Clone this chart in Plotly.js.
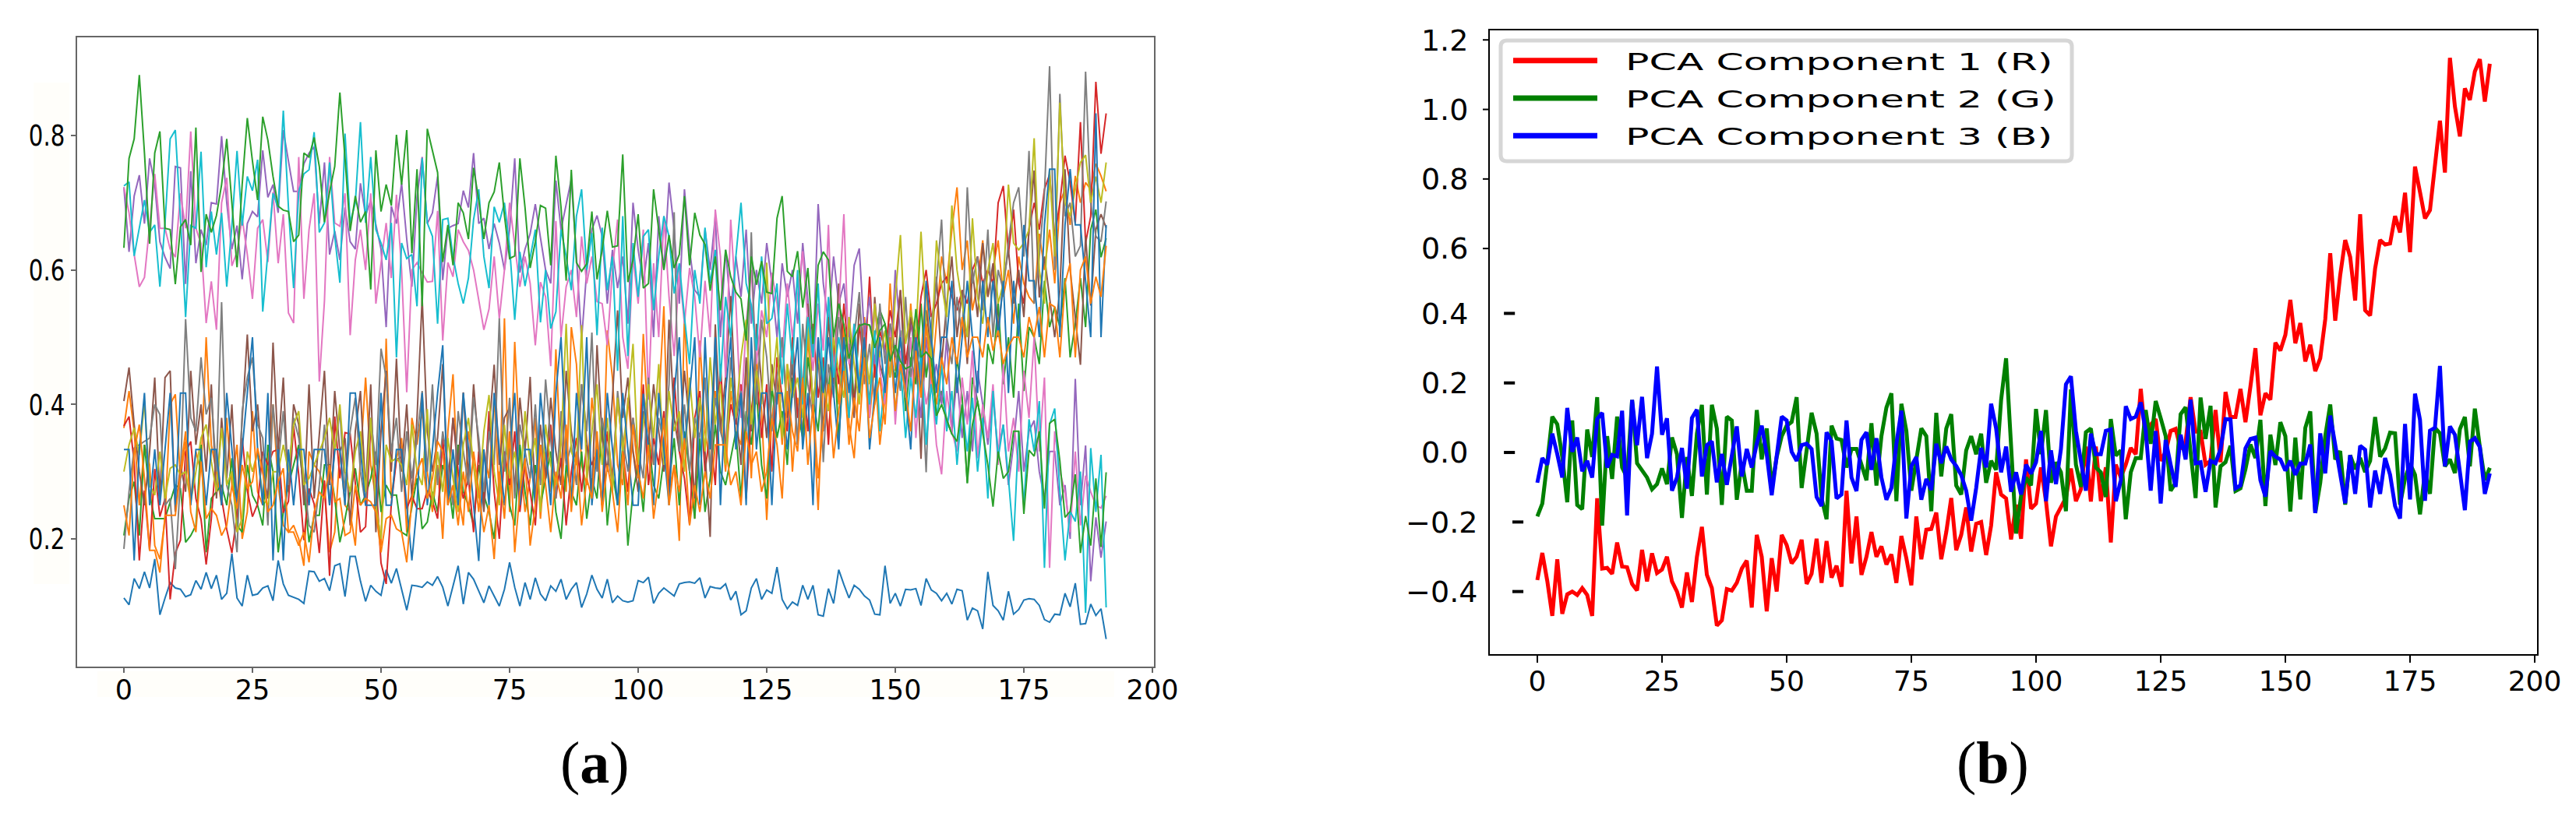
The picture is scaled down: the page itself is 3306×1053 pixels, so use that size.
<!DOCTYPE html>
<html><head><meta charset="utf-8">
<script src="https://cdn.plot.ly/plotly-3.0.1.min.js"></script>
<style>html,body{margin:0;padding:0;background:#fff}</style></head>
<body><div id="chart" style="width:3306px;height:1053px"></div>
<script>
// ---------- panel (a): line series, index 0..191 ----------
const aBlueLow=[.112,.102,.141,.126,.151,.127,.17,.087,.112,.135,
.127,.125,.114,.117,.138,.125,.15,.126,.146,.11,
.119,.178,.112,.10,.146,.116,.118,.127,.13,.108,
.168,.133,.116,.113,.11,.104,.152,.151,.137,.141,
.123,.16,.163,.114,.174,.174,.137,.107,.131,.122,
.116,.154,.134,.156,.125,.094,.131,.13,.128,.136,
.131,.144,.128,.10,.13,.16,.103,.15,.14,.122,
.105,.13,.115,.1,.125,.165,.128,.1,.135,.11,
.142,.118,.108,.13,.122,.14,.11,.125,.135,.098,
.118,.146,.125,.112,.14,.105,.115,.108,.106,.108,
.138,.135,.143,.104,.119,.127,.121,.115,.133,.135,
.136,.134,.142,.112,.129,.127,.126,.133,.109,.122,
.087,.093,.127,.141,.11,.124,.119,.158,.11,.096,
.106,.101,.131,.11,.131,.087,.085,.126,.104,.154,
.132,.112,.131,.125,.115,.109,.088,.087,.16,.104,
.119,.10,.125,.124,.126,.101,.141,.124,.119,.108,
.119,.103,.125,.123,.079,.097,.093,.066,.151,.101,
.093,.079,.122,.088,.095,.109,.111,.11,.101,.08,
.076,.088,.087,.119,.099,.134,.073,.074,.103,.086,
.096,.051];
const aOrangeA=[.365,.42,.36,.25,.34,.31,.19,.17,.23,.40,
.415,.29,.345,.26,.33,.30,.50,.34,.30,.25,
.38,.28,.34,.20,.24,.39,.27,.25,.31,.40,
.28,.22,.21,.22,.20,.16,.33,.31,.30,.27,
.18,.21,.33,.25,.24,.19,.32,.44,.31,.26,
.19,.498,.26,.32,.35,.21,.38,.34,.39,.30,
.24,.31,.20,.36,.445,.27,.22,.36,.31,.24,
.33,.29,.41,.26,.528,.24,.493,.33,.24,.29,
.38,.23,.33,.27,.482,.31,.27,.515,.46,.31,
.28,.41,.34,.25,.51,.44,.31,.28,.41,.33,
.29,.505,.36,.31,.40,.546,.27,.31,.197,.534,
.37,.23,.495,.36,.31,.42,.38,.30,.42,.36,
.34,.45,.29,.47,.39,.228,.38,.44,.34,.46,
.30,.41,.36,.50,.39,.243,.44,.35,.48,.40,
.52,.37,.32,.44,.53,.38,.46,.34,.41,.58,
.45,.50,.40,.55,.44,.47,.58,.43,.52,.62,
.58,.66,.723,.60,.644,.54,.58,.644,.56,.60,
.644,.56,.60,.52,.62,.58,.56,.55,.654,.60,
.66,.58,.70,.72,.667,.74,.70,.73,.72,.758,
.74,.717];
const aOrangeB=[.25,.205,.33,.37,.29,.183,.183,.15,.235,.235,
.235,.30,.36,.24,.21,.315,.23,.245,.235,.205,
.22,.28,.245,.31,.275,.285,.335,.30,.24,.25,
.285,.305,.21,.21,.19,.21,.165,.24,.27,.26,
.31,.255,.26,.205,.21,.28,.25,.26,.255,.24,
.18,.23,.235,.215,.21,.165,.26,.30,.32,.26,
.29,.345,.33,.25,.28,.22,.30,.24,.33,.27,
.21,.25,.17,.30,.23,.36,.18,.27,.32,.19,
.25,.34,.28,.21,.30,.26,.37,.24,.33,.22,
.29,.26,.36,.24,.31,.27,.21,.33,.25,.37,
.30,.26,.34,.23,.29,.38,.25,.31,.27,.35,
.22,.28,.24,.30,.26,.34,.34,.34,.28,.30,
.25,.36,.31,.33,.27,.30,.38,.34,.26,.42,
.36,.33,.44,.31,.40,.29,.37,.43,.32,.39,
.45,.34,.41,.36,.47,.35,.40,.44,.37,.50,
.39,.46,.42,.36,.48,.41,.52,.44,.40,.47,
.43,.50,.46,.53,.47,.50,.50,.47,.53,.48,
.51,.46,.486,.50,.50,.47,.53,.50,.545,.47,
.55,.545,.47,.58,.61,.47,.60,.62,.55,.59,
.56,.636];
const aGreenMid=[.205,.26,.285,.205,.34,.265,.23,.23,.23,.255,
.28,.275,.195,.205,.22,.34,.18,.26,.27,.28,
.25,.32,.22,.21,.31,.265,.25,.22,.34,.30,
.18,.24,.28,.31,.34,.275,.195,.235,.235,.31,
.31,.26,.195,.23,.27,.305,.25,.265,.29,.33,
.24,.28,.265,.265,.21,.205,.25,.29,.215,.225,
.27,.24,.31,.29,.23,.34,.27,.25,.22,.31,
.265,.24,.20,.29,.33,.25,.22,.34,.27,.22,
.31,.25,.29,.33,.24,.20,.31,.27,.25,.33,
.23,.29,.26,.37,.22,.30,.25,.34,.19,.27,
.31,.24,.35,.28,.26,.32,.28,.35,.25,.36,
.30,.23,.35,.24,.29,.37,.30,.28,.32,.36,
.26,.39,.34,.42,.31,.26,.43,.35,.39,.31,
.44,.39,.35,.47,.41,.36,.46,.42,.50,.35,
.46,.52,.40,.517,.52,.518,.50,.54,.52,.47,
.44,.51,.39,.47,.43,.55,.44,.50,.383,.42,
.377,.356,.47,.41,.283,.44,.405,.36,.49,.46,
.55,.43,.50,.41,.55,.42,.515,.50,.46,.584,
.515,.545,.515,.588,.47,.52,.588,.515,.66,.69,
.619,.647];
const aRedMid=[.368,.382,.314,.168,.272,.183,.304,.233,.26,.11,
.179,.198,.329,.345,.26,.229,.162,.23,.33,.26,
.214,.179,.235,.35,.272,.233,.252,.33,.31,.33,
.333,.239,.256,.368,.295,.198,.275,.252,.179,.287,
.145,.382,.29,.358,.356,.279,.21,.218,.368,.29,
.164,.133,.252,.318,.322,.245,.264,.245,.245,.272,
.256,.23,.35,.26,.38,.30,.26,.29,.21,.33,
.25,.39,.27,.20,.33,.28,.36,.24,.31,.27,
.22,.34,.29,.37,.26,.32,.22,.30,.35,.27,
.34,.31,.33,.25,.36,.29,.41,.33,.27,.38,
.30,.43,.28,.35,.31,.39,.26,.44,.33,.29,
.221,.38,.42,.30,.36,.28,.46,.33,.40,.37,
.43,.26,.39,.45,.35,.43,.30,.47,.41,.36,
.50,.38,.44,.36,.52,.41,.47,.34,.49,.43,
.55,.47,.40,.52,.45,.59,.44,.51,.48,.54,
.50,.57,.46,.52,.48,.56,.60,.53,.55,.58,
.59,.56,.54,.57,.55,.60,.62,.58,.60,.58,
.70,.725,.625,.69,.58,.55,.66,.70,.66,.72,
.742,.65,.70,.77,.73,.67,.82,.64,.68,.88,
.773,.833];
const aBrown=[.405,.455,.37,.30,.25,.33,.44,.26,.44,.45,
.24,.31,.27,.45,.34,.40,.30,.43,.26,.38,
.29,.40,.25,.38,.504,.36,.40,.30,.26,.492,
.33,.44,.27,.40,.37,.25,.43,.26,.36,.45,
.28,.42,.33,.35,.22,.36,.42,.27,.43,.21,
.36,.45,.30,.468,.30,.40,.26,.38,.559,.36,
.30,.35,.46,.28,.38,.31,.418,.29,.43,.33,
.24,.36,.459,.31,.38,.395,.27,.41,.33,.441,
.25,.37,.29,.41,.33,.28,.45,.36,.31,.43,
.34,.26,.488,.35,.30,.41,.54,.38,.44,.33,
.27,.39,.34,.43,.36,.30,.526,.38,.33,.45,
.37,.26,.41,.33,.203,.519,.36,.44,.561,.39,
.31,.47,.36,.52,.43,.35,.46,.40,.50,.38,
.46,.34,.42,.55,.39,.47,.36,.53,.43,.58,
.44,.49,.38,.55,.47,.40,.56,.46,.43,.52,
.47,.57,.42,.53,.49,.319,.54,.48,.59,.46,
.55,.62,.50,.57,.46,.60,.53,.64,.56,.61,
.51,.58,.63,.55,.60,.53,.66,.748,.559,.62,
.559,.50,.57,.75,.60,.53,.459,.65,.547,.66,
.683,.663];
const aGrey=[.185,.27,.335,.34,.345,.35,.40,.385,.25,.26,
.155,.29,.527,.38,.36,.47,.385,.41,.30,.552,
.28,.25,.18,.39,.44,.47,.37,.35,.22,.40,
.31,.39,.28,.38,.35,.29,.22,.21,.28,.37,
.25,.33,.39,.27,.36,.41,.30,.25,.38,.31,
.483,.44,.33,.38,.27,.36,.29,.35,.42,.30,
.43,.28,.36,.31,.25,.39,.33,.28,.41,.35,
.27,.36,.31,.528,.30,.41,.26,.37,.33,.29,
.40,.28,.437,.35,.26,.39,.31,.34,.28,.43,
.36,.507,.30,.38,.33,.28,.42,.35,.30,.38,
.33,.29,.44,.31,.38,.34,.43,.686,.33,.40,
.30,.38,.35,.44,.30,.41,.36,.33,.47,.38,
.42,.36,.656,.40,.526,.47,.36,.44,.50,.39,
.48,.34,.52,.43,.38,.50,.314,.46,.41,.53,
.45,.38,.50,.567,.43,.49,.40,.55,.46,.52,
.48,.42,.56,.44,.50,.46,.299,.52,.58,.675,
.50,.46,.56,.50,.723,.58,.62,.54,.66,.50,
.60,.57,.64,.70,.723,.62,.777,.55,.62,.713,
.903,.60,.862,.68,.70,.62,.636,.895,.70,.65,
.642,.702];
const aOlive=[.30,.34,.365,.325,.405,.28,.265,.33,.26,.305,
.31,.295,.30,.255,.30,.35,.37,.315,.27,.365,
.28,.30,.21,.23,.33,.30,.33,.26,.25,.30,
.30,.34,.30,.37,.39,.28,.29,.31,.33,.35,
.38,.33,.40,.30,.27,.33,.36,.27,.38,.25,
.20,.34,.315,.32,.31,.28,.37,.30,.28,.393,
.25,.33,.27,.35,.29,.24,.34,.38,.31,.26,
.36,.414,.30,.25,.37,.29,.33,.27,.39,.31,
.35,.24,.37,.31,.28,.34,.52,.33,.31,.518,
.29,.36,.43,.31,.38,.27,.41,.33,.40,.49,
.31,.37,.43,.35,.46,.31,.42,.36,.39,.30,
.44,.35,.41,.33,.47,.37,.43,.31,.44,.38,
.47,.526,.37,.45,.40,.611,.42,.50,.35,.46,
.41,.44,.38,.52,.40,.47,.43,.39,.50,.45,
.41,.53,.46,.40,.49,.43,.55,.47,.51,.44,
.56,.652,.49,.54,.50,.657,.52,.47,.644,.58,
.53,.696,.60,.55,.50,.677,.56,.52,.60,.64,
.55,.58,.727,.64,.63,.64,.66,.796,.60,.55,
.75,.62,.849,.70,.68,.72,.76,.771,.70,.739,
.70,.76];
const aBlueMid=[.333,.333,.168,.333,.417,.25,.333,.25,.333,.417,
.25,.417,.417,.25,.333,.333,.25,.333,.333,.25,
.417,.333,.25,.333,.417,.50,.333,.25,.417,.168,
.333,.168,.333,.25,.333,.333,.25,.333,.333,.333,
.25,.333,.333,.25,.417,.417,.333,.25,.25,.25,
.417,.25,.25,.333,.333,.25,.168,.25,.417,.25,
.333,.417,.488,.25,.333,.25,.417,.333,.25,.167,
.333,.25,.417,.333,.25,.333,.417,.25,.333,.333,
.25,.417,.333,.25,.417,.50,.333,.25,.417,.333,
.50,.25,.333,.25,.417,.333,.25,.417,.333,.25,
.25,.416,.333,.25,.417,.333,.25,.416,.50,.333,
.417,.50,.25,.50,.333,.50,.25,.417,.50,.333,
.417,.25,.50,.333,.417,.417,.25,.417,.417,.333,
.417,.50,.333,.417,.25,.50,.417,.50,.417,.333,
.50,.417,.50,.417,.50,.333,.417,.50,.417,.50,
.417,.50,.417,.333,.50,.417,.584,.50,.417,.50,
.50,.584,.417,.50,.584,.50,.417,.584,.50,.584,
.50,.584,.417,.584,.50,.667,.584,.584,.50,.667,
.75,.75,.50,.667,.75,.667,.667,.584,.50,.833,
.50,.667];
const aGreenHigh=[.633,.766,.795,.89,.774,.639,.774,.806,.662,.66,
.579,.664,.675,.637,.812,.597,.683,.656,.681,.727,
.795,.70,.604,.727,.826,.762,.704,.828,.793,.739,
.695,.689,.687,.642,.652,.774,.768,.797,.754,.671,
.716,.754,.864,.766,.658,.71,.671,.687,.571,.778,
.687,.727,.696,.801,.727,.808,.625,.75,.546,.81,
.778,.745,.612,.667,.607,.70,.685,.646,.752,.704,
.646,.70,.716,.76,.681,.617,.621,.766,.693,.603,
.642,.696,.692,.607,.77,.693,.584,.749,.611,.598,
.609,.687,.586,.63,.688,.634,.636,.772,.582,.615,
.683,.573,.58,.72,.66,.60,.652,.603,.623,.71,
.607,.685,.652,.638,.569,.62,.54,.63,.59,.567,
.557,.495,.62,.578,.613,.567,.565,.677,.71,.598,
.59,.628,.544,.603,.49,.607,.627,.615,.50,.55,
.518,.468,.50,.517,.52,.518,.484,.51,.52,.464,
.488,.464,.453,.457,.542,.47,.478,.468,.383,.40,
.377,.356,.345,.40,.283,.37,.405,.36,.31,.248,
.33,.29,.30,.36,.36,.237,.332,.323,.36,.245,
.372,.378,.316,.232,.241,.296,.179,.234,.19,.29,
.188,.299];
const aPurple=[.723,.627,.71,.741,.669,.766,.727,.642,.619,.602,
.754,.752,.579,.747,.61,.66,.637,.70,.698,.799,
.70,.631,.666,.586,.669,.687,.679,.778,.708,.727,
.685,.808,.762,.717,.717,.758,.774,.783,.669,.76,
.623,.658,.615,.693,.642,.631,.729,.681,.704,.666,
.631,.515,.695,.669,.729,.646,.575,.708,.768,.669,
.685,.739,.585,.662,.666,.669,.718,.693,.774,.669,
.677,.631,.669,.64,.60,.66,.766,.596,.631,.654,
.698,.648,.60,.58,.733,.66,.696,.735,.62,.496,
.60,.66,.681,.65,.55,.63,.573,.62,.52,.70,
.63,.58,.64,.50,.68,.60,.73,.66,.55,.72,
.63,.57,.56,.66,.60,.68,.50,.63,.54,.62,
.56,.66,.52,.60,.55,.64,.58,.50,.61,.56,
.60,.52,.64,.55,.47,.698,.58,.52,.62,.55,
.58,.50,.607,.632,.50,.56,.46,.53,.48,.44,
.60,.50,.42,.53,.46,.38,.50,.42,.46,.40,
.50,.36,.44,.35,.42,.33,.45,.40,.34,.41,
.33,.37,.28,.34,.42,.30,.36,.376,.30,.26,
.33,.33,.25,.28,.20,.438,.25,.339,.137,.232,
.172,.226];
const aCyan=[.725,.731,.621,.662,.704,.656,.667,.575,.67,.795,
.808,.677,.53,.666,.662,.776,.604,.687,.623,.685,
.575,.666,.777,.666,.739,.718,.764,.538,.631,.714,
.693,.837,.693,.573,.716,.743,.749,.805,.656,.67,
.76,.65,.581,.803,.67,.70,.82,.67,.768,.66,
.64,.615,.67,.47,.64,.617,.623,.546,.766,.67,
.65,.52,.675,.677,.62,.58,.55,.588,.675,.72,
.62,.573,.694,.671,.70,.635,.526,.627,.576,.62,
.66,.522,.60,.513,.538,.66,.62,.57,.68,.72,
.60,.655,.503,.663,.57,.62,.45,.68,.472,.64,
.56,.65,.66,.54,.62,.68,.65,.565,.61,.53,
.46,.60,.55,.663,.58,.63,.434,.56,.50,.62,
.70,.58,.548,.48,.62,.52,.528,.58,.43,.55,
.46,.60,.40,.53,.47,.58,.42,.56,.44,.50,
.45,.38,.52,.43,.47,.40,.51,.36,.44,.50,
.39,.46,.35,.44,.38,.48,.34,.43,.37,.46,
.36,.42,.31,.40,.33,.41,.30,.38,.26,.42,
.32,.37,.29,.197,.36,.25,.378,.33,.405,.157,
.37,.394,.27,.168,.241,.226,.30,.09,.335,.24,
.325,.098];
const aPink=[.723,.685,.623,.575,.589,.662,.743,.662,.662,.631,
.619,.714,.662,.806,.662,.639,.521,.583,.511,.70,
.737,.606,.627,.677,.623,.557,.662,.675,.612,.716,
.61,.683,.536,.521,.768,.557,.66,.714,.434,.554,
.768,.67,.665,.714,.503,.615,.66,.60,.714,.55,
.612,.67,.588,.712,.60,.418,.60,.611,.596,.582,
.583,.688,.495,.611,.59,.66,.642,.629,.60,.557,
.511,.542,.62,.528,.60,.70,.64,.575,.62,.58,
.488,.582,.56,.457,.673,.50,.575,.60,.53,.65,
.58,.62,.553,.55,.488,.60,.675,.50,.453,.62,
.55,.66,.407,.61,.50,.68,.56,.472,.60,.52,
.603,.56,.47,.584,.50,.69,.62,.44,.675,.55,
.38,.52,.60,.46,.54,.50,.596,.55,.47,.58,
.50,.56,.628,.52,.45,.55,.48,.667,.44,.54,
.683,.46,.52,.42,.50,.38,.55,.45,.40,.52,
.37,.48,.41,.50,.35,.46,.40,.44,.34,.296,
.42,.36,.33,.44,.37,.48,.32,.40,.35,.43,
.31,.46,.33,.38,.30,.45,.38,.50,.33,.44,
.157,.36,.30,.27,.21,.33,.22,.294,.27,.25,
.246,.264];

// ---------- panel (b): PCA components, index 0..191 ----------
const pcaR=[-.367,-.289,-.37,-.47,-.307,-.464,-.408,-.40,-.41,-.39,
-.41,-.47,-.132,-.334,-.332,-.349,-.259,-.328,-.33,-.378,
-.397,-.28,-.371,-.29,-.347,-.337,-.30,-.371,-.40,-.446,
-.345,-.43,-.30,-.214,-.352,-.39,-.498,-.483,-.393,-.397,
-.375,-.334,-.311,-.446,-.237,-.30,-.457,-.304,-.40,-.237,
-.266,-.319,-.30,-.251,-.378,-.349,-.248,-.375,-.255,-.36,
-.326,-.386,-.11,-.319,-.184,-.352,-.30,-.229,-.30,-.27,
-.322,-.293,-.375,-.24,-.304,-.382,-.184,-.307,-.222,-.22,
-.173,-.307,-.229,-.131,-.281,-.237,-.158,-.285,-.205,-.20,
-.295,-.21,-.057,-.121,-.132,-.25,-.15,-.248,-.02,-.162,
-.147,-.043,-.14,-.27,-.184,-.155,-.13,-.046,-.14,-.106,
.017,-.141,.017,-.14,-.043,-.259,-.035,-.072,-.035,.013,
-.005,.183,.036,.08,.096,-.024,.002,.062,.068,.01,
.03,.159,.06,.06,-.035,-.024,.122,-.028,.174,.102,
.102,.183,.087,.19,.30,.107,.17,.152,.316,.293,
.338,.439,.314,.372,.262,.31,.234,.271,.383,.573,
.379,.51,.611,.562,.437,.685,.409,.394,.529,.611,
.598,.601,.68,.633,.747,.576,.822,.749,.673,.697,
.82,.954,.805,1.135,.995,.909,1.047,1.014,1.096,1.131,
1.009,1.118];
const pcaG=[-.184,-.147,-.028,.103,.081,-.013,-.143,.092,-.151,-.163,
.066,-.013,.159,-.21,.047,-.076,.103,-.043,-.072,.151,
-.031,-.054,-.072,-.106,-.091,-.046,-.091,.043,-.005,-.188,
-.013,-.125,.054,.137,-.121,.137,.069,-.151,.103,.092,
-.136,-.028,-.11,-.11,.122,-.02,.069,-.102,-.013,.047,
.077,.088,.159,-.102,.01,.114,.054,-.132,-.192,.077,
.04,.036,-.043,.01,.01,-.035,-.08,.084,-.095,.047,
.129,.17,-.14,.14,.062,-.11,-.02,.069,.047,-.169,
.114,-.069,.069,.11,-.095,-.121,.006,.047,-.005,.054,
-.087,-.024,-.05,.151,.271,.025,-.233,-.125,-.072,-.095,
.125,-.005,.122,-.087,-.028,-.057,-.169,.181,-.035,-.099,
.058,.069,-.043,-.057,-.128,.096,-.009,.006,-.192,-.057,
-.016,-.016,.122,.025,.148,.099,.047,-.11,-.087,.11,
.13,0,-.131,.158,.039,.134,-.158,-.04,-.028,.019,
-.111,-.103,-.048,.023,-.016,.094,-.154,.051,-.036,.087,
.047,-.17,.043,-.135,.071,.118,-.174,-.087,.047,.138,
-.02,.004,-.15,-.008,-.048,-.016,-.056,-.024,.102,-.012,
.012,.057,.055,-.15,-.075,-.032,-.064,-.178,-.056,-.119,
.071,.055,-.04,-.02,-.059,.067,.102,-.04,.126,.016,
-.079,-.044];
const pcaB=[-.087,-.016,-.035,.054,-.005,-.072,.128,.002,.043,-.054,
-.024,-.072,.096,.114,-.043,-.007,-.011,.12,-.181,.151,
.021,.16,-.016,.054,.247,.051,.098,-.11,-.072,.013,
-.104,.099,.123,-.069,.021,.032,-.086,-.004,-.093,-.009,
.075,-.069,.01,-.043,.025,.077,-.005,-.123,-.013,.103,
.092,.002,-.024,.021,.025,.01,-.128,-.154,.058,.032,
-.132,-.121,.092,-.072,-.111,.036,.058,-.05,.041,-.072,
-.136,-.102,.025,.12,-.19,-.039,-.013,-.136,-.076,-.108,
.025,-.031,.017,-.02,-.039,-.065,-.11,-.196,-.102,.013,
-.043,.14,.069,-.057,.017,-.113,-.057,-.121,-.035,-.061,
-.028,.062,-.14,.006,-.091,.01,.196,.219,.062,-.028,
-.11,.054,-.005,-.005,.062,.066,-.14,-.08,.133,.096,
.103,.144,.062,-.11,.062,-.147,.036,-.035,-.099,.051,
-.02,.152,-.031,-.028,-.113,-.024,-.031,.01,.096,.095,
-.103,-.095,.012,.039,.043,-.08,-.127,.004,-.012,-.02,
-.052,-.024,-.064,-.032,-.032,.023,-.174,.055,-.06,.106,
.023,-.067,-.146,-.008,-.119,.019,.008,-.158,-.052,-.119,
-.016,-.064,-.154,-.19,.082,-.135,.169,.094,-.139,.063,
.071,.249,-.04,.075,.051,-.056,-.166,.031,.041,.016,
-.119,-.06];

// ---------- labels and ticks ----------
const pcaNames=["PCA Component 1 (R)","PCA Component 2 (G)","PCA Component 3 (B)"];
const pcaColors=["#ff0000","#008000","#0000ff"];
const xTicks=[0,25,50,75,100,125,150,175,200];
const aYTicks=[.2,.4,.6,.8];
// In the reference the labels from 0.6 up sit slightly lower than a linear scale from the lower labels.
const bUpperDrop=.0134;
const bSpineTicks=[.6,.8,1,1.2].map(v=>v-bUpperDrop);
const bYTicks=[-.4,-.2,0,.2,.4].concat(bSpineTicks);
const bYLabels=["\u22120.4","\u22120.2","0.0\u00a0","0.2\u00a0","0.4\u00a0","0.6\u00a0","0.8\u00a0","1.0\u00a0","1.2\u00a0"];
const bDashHigh=[0,.2,.4];
const bDashLow=[-.4,-.2];

const W=3306,H=1053;
const px=v=>v/W, py=v=>1-v/H;
const aSeries=[[aBlueLow,"#1f77b4"],[aOrangeA,"#ff7f0e"],[aGreenMid,"#2ca02c"],[aRedMid,"#d62728"],
 [aPurple,"#9467bd"],[aBrown,"#8c564b"],[aPink,"#e377c2"],[aGrey,"#7f7f7f"],[aOlive,"#bcbd22"],
 [aCyan,"#17becf"],[aBlueMid,"#1f77b4"],[aOrangeB,"#ff7f0e"],[aGreenHigh,"#2ca02c"]];
const idx=a=>a.map((_,i)=>i);
const traces=[];
aSeries.forEach(([arr,c])=>traces.push({x:idx(arr),y:arr,mode:"lines",type:"scatter",xaxis:"x",yaxis:"y",showlegend:false,hoverinfo:"skip",line:{color:c,width:2}}));
[pcaR,pcaG,pcaB].forEach((arr,k)=>traces.push({x:idx(arr),y:arr,mode:"lines",type:"scatter",xaxis:"x2",yaxis:"y2",name:pcaNames[k],legendgroup:"g"+k,line:{color:pcaColors[k],width:5}}));

const shapes=[];
// faint cream patches around panel (a)'s labels
[[43,106,89,750],[125,862,1430,895]].forEach(r=>shapes.push({type:"rect",xref:"paper",yref:"paper",x0:px(r[0]),x1:px(r[2]),y0:py(r[1]),y1:py(r[3]),fillcolor:"#fffefa",line:{width:0},layer:"below"}));
// panel (b) tick marks: on the spine for upper values, displaced dashes for lower
bSpineTicks.forEach(v=>shapes.push({type:"line",xref:"paper",yref:"y2",x0:px(1903),x1:px(1912),y0:v,y1:v,line:{color:"#000",width:2}}));
bDashHigh.forEach(v=>shapes.push({type:"line",xref:"x2",yref:"y2",x0:-6.7,x1:-4.5,y0:v,y1:v,line:{color:"#000",width:4}}));
bDashLow.forEach(v=>shapes.push({type:"line",xref:"x2",yref:"y2",x0:-5,x1:-2.8,y0:v,y1:v,line:{color:"#000",width:4}}));
// legend frame
const lx0=px(1926),lx1=px(2659),ly0=py(52),ly1=py(207),rx=8/W,ry=8/H;
shapes.push({type:"path",xref:"paper",yref:"paper",layer:"above",fillcolor:"rgba(255,255,255,0.8)",line:{color:"#d6d6d6",width:5},
 path:`M ${lx0+rx},${ly0} L ${lx1-rx},${ly0} Q ${lx1},${ly0} ${lx1},${ly0-ry} L ${lx1},${ly1+ry} Q ${lx1},${ly1} ${lx1-rx},${ly1} L ${lx0+rx},${ly1} Q ${lx0},${ly1} ${lx0},${ly1+ry} L ${lx0},${ly0-ry} Q ${lx0},${ly0} ${lx0+rx},${ly0} Z`});

const layout={width:W,height:H,margin:{l:0,r:0,t:0,b:0},paper_bgcolor:"#fff",plot_bgcolor:"rgba(0,0,0,0)",
 showlegend:true,shapes,
 legend:{x:px(1937),y:py(51),xanchor:"left",yanchor:"top",bgcolor:"rgba(0,0,0,0)",borderwidth:0,itemwidth:108,tracegroupgap:5,entrywidth:650,entrywidthmode:"pixels",
  font:{family:"DejaVu Sans",size:31,color:"#000"},itemclick:false,itemdoubleclick:false},
 xaxis:{domain:[px(99),px(1481)],range:[-9.09,200.3],tickvals:xTicks,ticks:"outside",ticklen:6,tickwidth:1.5,tickcolor:"#666",showline:true,linecolor:"#666",linewidth:2,mirror:true,showgrid:false,zeroline:false,tickfont:{family:"DejaVu Sans",size:35,color:"#000"},anchor:"y",ticklabelstandoff:-8},
 yaxis:{domain:[py(856),py(48)],range:[.01,.946],tickvals:aYTicks,ticktext:["0.2","0.4","0.6","0.8"],ticks:"outside",ticklen:6,tickwidth:1.5,tickcolor:"#666",showline:true,linecolor:"#666",linewidth:2,mirror:true,showgrid:false,zeroline:false,tickfont:{family:"DejaVu Sans",size:38,color:"#000"},anchor:"x"},
 xaxis2:{domain:[px(1912),px(3256)],range:[-9.53,200.47],tickvals:xTicks,ticks:"outside",ticklen:9,tickwidth:2,tickcolor:"#000",showline:true,linecolor:"#000",linewidth:2,mirror:true,showgrid:false,zeroline:false,tickfont:{family:"DejaVu Sans",size:36,color:"#000"},anchor:"y2",ticklabelstandoff:-7},
 yaxis2:{domain:[py(840),py(39)],range:[-.58,1.214],tickvals:bYTicks,ticktext:bYLabels,ticks:"",showline:true,linecolor:"#000",linewidth:2,mirror:true,showgrid:false,zeroline:false,tickfont:{family:"DejaVu Sans",size:38,color:"#000"},anchor:"x2",ticklabelstandoff:6},
 annotations:[
  {text:"(<b>a</b>)",xref:"paper",yref:"paper",x:px(763),y:py(979),xanchor:"center",yanchor:"middle",showarrow:false,font:{family:"Liberation Serif",size:76,color:"#000"}},
  {text:"(<b>b</b>)",xref:"paper",yref:"paper",x:px(2557),y:py(979),xanchor:"center",yanchor:"middle",showarrow:false,font:{family:"Liberation Serif",size:76,color:"#000"}}
 ]};
const gd=document.getElementById("chart");
Plotly.newPlot(gd,traces,layout,{displayModeBar:false,responsive:false}).then(()=>{
 // matplotlib-style proportions the library has no option for: stretched legend, condensed y labels of (a)
 gd.querySelectorAll(".legend, .legend .scrollbox, .legend .groups, .legend .traces").forEach(n=>n.removeAttribute("clip-path"));
 gd.querySelectorAll(".legendtext").forEach(t=>{
  const len=t.getComputedTextLength();
  t.setAttribute("textLength",len*1.63);t.setAttribute("lengthAdjust","spacingAndGlyphs");
  t.removeAttribute("clip-path");
  t.setAttribute("x",(parseFloat(t.getAttribute("x"))||0)+31);
  t.querySelectorAll("tspan").forEach(s=>s.removeAttribute("clip-path"));
 });
 gd.querySelectorAll(".legendlines path").forEach(p=>{p.style.strokeWidth="7px";});
 gd.querySelectorAll(".subplot.xy .yaxislayer-above .ytick text").forEach(t=>{
  const len=t.getComputedTextLength();
  t.setAttribute("textLength",len*.77);t.setAttribute("lengthAdjust","spacingAndGlyphs");
 });
});
</script></body></html>
